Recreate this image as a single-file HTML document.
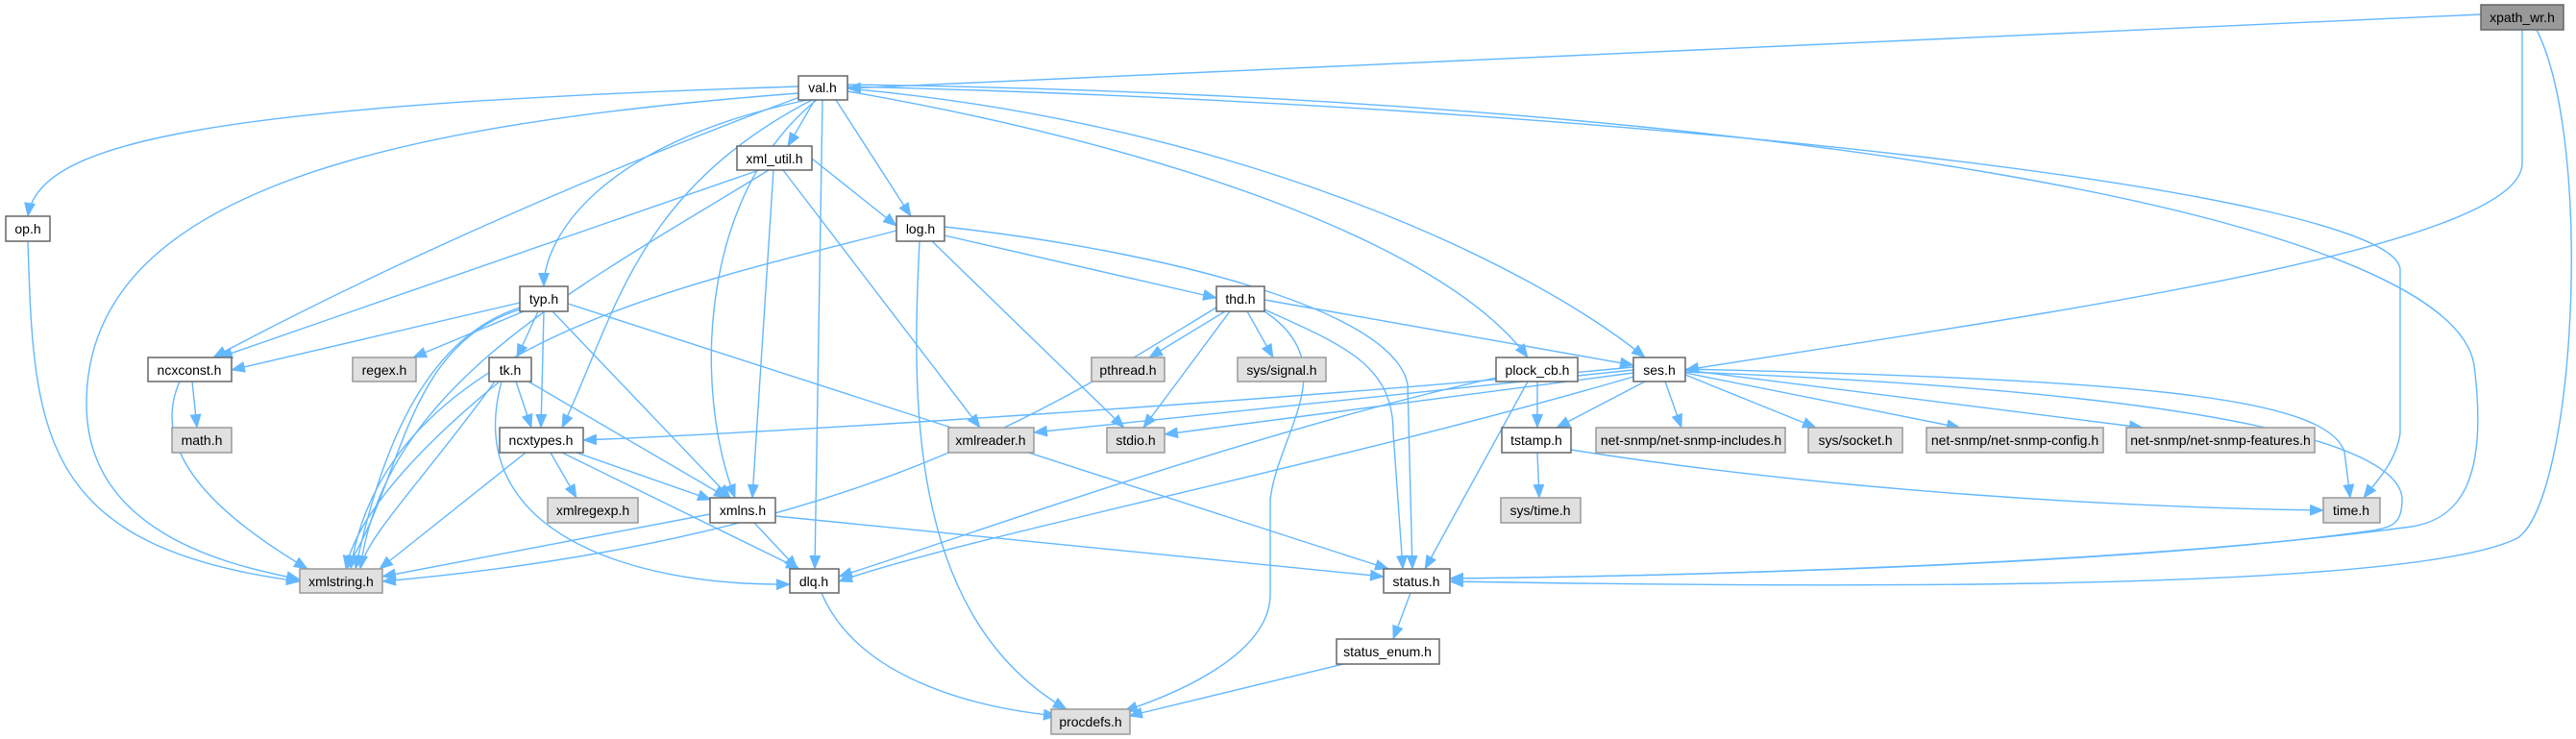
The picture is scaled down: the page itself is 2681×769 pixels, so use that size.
<!DOCTYPE html>
<html><head><meta charset="utf-8"><style>
html,body{margin:0;padding:0;background:#fff;}
svg{display:block;}
text{font-family:"Liberation Sans",Arial,sans-serif;font-size:14px;fill:#000;}
.w{fill:#fff;stroke:#666;stroke-width:1.5}
.g{fill:#e0e0e0;stroke:#999;stroke-width:1.5}
.e path{fill:none;stroke:#63b8ff;stroke-width:1.4;marker-end:url(#a)}
</style></head><body>
<svg width="2681" height="769" viewBox="0 0 2681 769" xmlns="http://www.w3.org/2000/svg">
<defs><marker id="a" markerUnits="userSpaceOnUse" markerWidth="15" markerHeight="12" refX="14" refY="6" orient="auto"><path d="M0,0 L15,6 L0,12 z" fill="#63b8ff"/></marker></defs>
<g class="e">
<path d="M2582 15 L882 92"/>
<path d="M2625 31 L2625 170 C2625 260 2100 330 1754 385"/>
<path d="M2640 31 C2700 150 2680 520 2620 560 C2500 620 1800 610 1509 605"/>
<path d="M831 90 C200 110 40 150 29 225"/>
<path d="M831 97 C400 130 90 200 90 420 C90 560 250 590 312 603"/>
<path d="M835 100 C700 150 450 250 222 372"/>
<path d="M840 104 C620 150 566 250 566 298"/>
<path d="M845 104 C660 200 640 330 585 445"/>
<path d="M850 104 C730 200 720 400 765 518"/>
<path d="M856 104 L848 592"/>
<path d="M848 104 L820 152"/>
<path d="M870 104 L948 225"/>
<path d="M882 95 C1200 150 1500 250 1590 372"/>
<path d="M882 92 C1300 130 1600 280 1712 372"/>
<path d="M882 90 C1700 110 2490 200 2498 280 L2498 450 C2495 480 2470 505 2460 518"/>
<path d="M882 88 C1800 100 2550 220 2575 380 C2590 500 2560 540 2510 548 C2200 590 1700 600 1509 602"/>
<path d="M790 177 L228 372"/>
<path d="M800 177 C600 300 400 400 375 592"/>
<path d="M805 177 L783 518"/>
<path d="M845 165 L933 235"/>
<path d="M815 177 L1020 445"/>
<path d="M933 240 C700 300 400 360 365 592"/>
<path d="M983 245 L1266 310"/>
<path d="M970 251 L1170 445"/>
<path d="M957 251 C950 400 940 640 1110 738"/>
<path d="M983 236 C1200 260 1450 320 1465 400 L1470 592"/>
<path d="M29 251 C35 450 40 570 312 605"/>
<path d="M541 315 L241 385"/>
<path d="M545 324 L430 372"/>
<path d="M560 324 L538 372"/>
<path d="M566 324 L563 445"/>
<path d="M541 320 C450 350 400 450 370 592"/>
<path d="M541 322 C420 360 420 500 360 592"/>
<path d="M575 324 L760 518"/>
<path d="M591 316 L1445 592"/>
<path d="M1275 324 L1196 372"/>
<path d="M1298 324 L1325 372"/>
<path d="M1280 324 L1190 445"/>
<path d="M1266 320 C1100 420 900 560 398 605"/>
<path d="M1316 312 L1700 380"/>
<path d="M1316 322 C1400 360 1450 380 1450 450 L1460 592"/>
<path d="M1316 324 C1400 380 1330 450 1322 520 L1322 620 C1320 680 1230 720 1170 740"/>
<path d="M200 397 L205 445"/>
<path d="M187 397 C150 480 250 550 320 592"/>
<path d="M537 397 L553 445"/>
<path d="M515 397 C440 500 380 560 375 592"/>
<path d="M520 397 C430 470 370 540 360 592"/>
<path d="M550 397 L757 518"/>
<path d="M522 397 C480 550 650 610 822 608"/>
<path d="M1600 397 L1600 445"/>
<path d="M1590 397 L1483 592"/>
<path d="M1557 393 C1300 450 1000 560 873 600"/>
<path d="M1700 382 C1300 420 800 450 607 458"/>
<path d="M1700 385 L1076 450"/>
<path d="M1700 388 L1212 452"/>
<path d="M1712 397 L1620 445"/>
<path d="M1733 397 L1750 445"/>
<path d="M1754 390 L1890 445"/>
<path d="M1754 388 L2040 445"/>
<path d="M1754 385 L2230 445"/>
<path d="M1754 384 C2200 395 2420 410 2440 470 L2446 518"/>
<path d="M1754 387 C2350 410 2500 470 2500 520 C2500 545 2490 548 2470 552 C2200 590 1700 600 1509 602"/>
<path d="M1700 392 C1400 480 1000 560 873 605"/>
<path d="M547 471 L395 592"/>
<path d="M573 471 L600 518"/>
<path d="M600 471 L740 520"/>
<path d="M585 471 L832 592"/>
<path d="M739 535 L398 600"/>
<path d="M785 544 L830 592"/>
<path d="M807 537 L1440 600"/>
<path d="M1600 471 L1602 518"/>
<path d="M1635 468 C1900 510 2200 528 2418 531"/>
<path d="M855 617 C890 700 1000 735 1100 745"/>
<path d="M1468 617 L1450 665"/>
<path d="M1398 691 L1175 745"/>
</g>
<g>
<rect x="2582" y="5" width="86" height="26" fill="#999" stroke="#666" stroke-width="1.5"/><text x="2625" y="23" text-anchor="middle">xpath_wr.h</text>
<rect class="w" x="831" y="79" width="51" height="25"/><text x="856" y="96" text-anchor="middle">val.h</text>
<rect class="w" x="6" y="225" width="46" height="26"/><text x="29" y="243" text-anchor="middle">op.h</text>
<rect class="w" x="767" y="152" width="78" height="25"/><text x="806" y="170" text-anchor="middle">xml_util.h</text>
<rect class="w" x="933" y="225" width="50" height="26"/><text x="958" y="243" text-anchor="middle">log.h</text>
<rect class="w" x="541" y="298" width="50" height="26"/><text x="566" y="316" text-anchor="middle">typ.h</text>
<rect class="w" x="1266" y="298" width="50" height="26"/><text x="1291" y="316" text-anchor="middle">thd.h</text>
<rect class="w" x="154" y="372" width="87" height="25"/><text x="197" y="390" text-anchor="middle">ncxconst.h</text>
<rect class="g" x="367" y="372" width="66" height="25"/><text x="400" y="390" text-anchor="middle">regex.h</text>
<rect class="w" x="509" y="372" width="44" height="25"/><text x="531" y="390" text-anchor="middle">tk.h</text>
<rect class="g" x="1136" y="372" width="76" height="25"/><text x="1174" y="390" text-anchor="middle">pthread.h</text>
<rect class="g" x="1288" y="372" width="92" height="25"/><text x="1334" y="390" text-anchor="middle">sys/signal.h</text>
<rect class="w" x="1557" y="372" width="85" height="25"/><text x="1600" y="390" text-anchor="middle">plock_cb.h</text>
<rect class="w" x="1700" y="372" width="54" height="25"/><text x="1727" y="390" text-anchor="middle">ses.h</text>
<rect class="g" x="179" y="445" width="62" height="26"/><text x="210" y="463" text-anchor="middle">math.h</text>
<rect class="w" x="520" y="445" width="87" height="26"/><text x="563" y="463" text-anchor="middle">ncxtypes.h</text>
<rect class="g" x="987" y="445" width="89" height="26"/><text x="1031" y="463" text-anchor="middle">xmlreader.h</text>
<rect class="g" x="1152" y="445" width="60" height="26"/><text x="1182" y="463" text-anchor="middle">stdio.h</text>
<rect class="w" x="1563" y="445" width="72" height="26"/><text x="1599" y="463" text-anchor="middle">tstamp.h</text>
<rect class="g" x="1661" y="445" width="197" height="26"/><text x="1760" y="463" text-anchor="middle">net-snmp/net-snmp-includes.h</text>
<rect class="g" x="1882" y="445" width="98" height="26"/><text x="1931" y="463" text-anchor="middle">sys/socket.h</text>
<rect class="g" x="2005" y="445" width="184" height="26"/><text x="2097" y="463" text-anchor="middle">net-snmp/net-snmp-config.h</text>
<rect class="g" x="2213" y="445" width="196" height="26"/><text x="2311" y="463" text-anchor="middle">net-snmp/net-snmp-features.h</text>
<rect class="g" x="570" y="518" width="94" height="26"/><text x="617" y="536" text-anchor="middle">xmlregexp.h</text>
<rect class="w" x="739" y="518" width="68" height="26"/><text x="773" y="536" text-anchor="middle">xmlns.h</text>
<rect class="g" x="1562" y="518" width="83" height="26"/><text x="1603" y="536" text-anchor="middle">sys/time.h</text>
<rect class="g" x="2418" y="518" width="59" height="26"/><text x="2447" y="536" text-anchor="middle">time.h</text>
<rect class="g" x="312" y="592" width="86" height="25"/><text x="355" y="610" text-anchor="middle">xmlstring.h</text>
<rect class="w" x="822" y="592" width="51" height="25"/><text x="847" y="610" text-anchor="middle">dlq.h</text>
<rect class="w" x="1440" y="592" width="69" height="25"/><text x="1474" y="610" text-anchor="middle">status.h</text>
<rect class="w" x="1391" y="665" width="107" height="26"/><text x="1444" y="683" text-anchor="middle">status_enum.h</text>
<rect class="g" x="1094" y="738" width="82" height="26"/><text x="1135" y="756" text-anchor="middle">procdefs.h</text>
</g>
</svg>
</body></html>
